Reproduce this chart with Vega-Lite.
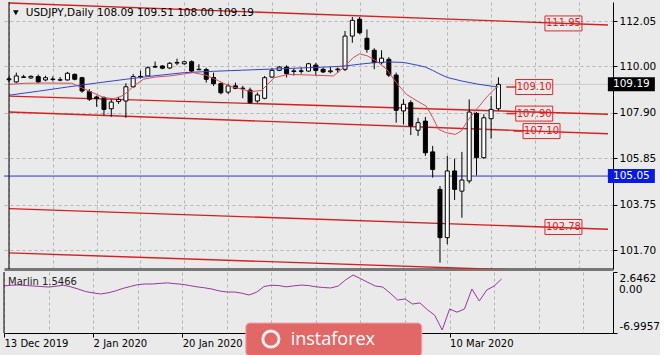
{
  "$schema": "https://vega.github.io/schema/vega-lite/v6.json",
  "background": "#eaeaea",
  "padding": {"left": 3, "top": 1, "right": 0, "bottom": 0},
  "spacing": 3,
  "bounds": "flush",
  "config": {"view": {"stroke": null}, "font": "DejaVu Sans"},
  "datasets": {
    "candles": [
      {"i":0,"o":109.40,"h":109.55,"l":109.30,"c":109.44},
      {"i":1,"o":109.30,"h":109.72,"l":109.26,"c":109.57},
      {"i":2,"o":109.50,"h":109.62,"l":109.48,"c":109.53},
      {"i":3,"o":109.48,"h":109.60,"l":109.44,"c":109.55},
      {"i":4,"o":109.54,"h":109.63,"l":109.25,"c":109.30},
      {"i":5,"o":109.39,"h":109.58,"l":109.33,"c":109.49},
      {"i":6,"o":109.41,"h":109.55,"l":109.33,"c":109.43},
      {"i":7,"o":109.38,"h":109.52,"l":109.33,"c":109.40},
      {"i":8,"o":109.39,"h":109.75,"l":109.36,"c":109.69},
      {"i":9,"o":109.64,"h":109.68,"l":109.37,"c":109.42},
      {"i":10,"o":109.49,"h":109.53,"l":108.81,"c":108.89},
      {"i":11,"o":108.86,"h":108.97,"l":108.44,"c":108.52},
      {"i":12,"o":108.62,"h":108.68,"l":108.18,"c":108.55},
      {"i":13,"o":108.59,"h":108.65,"l":107.79,"c":108.06},
      {"i":14,"o":108.09,"h":108.51,"l":107.73,"c":108.39},
      {"i":15,"o":108.42,"h":108.62,"l":108.31,"c":108.51},
      {"i":16,"o":108.44,"h":109.24,"l":107.68,"c":109.08},
      {"i":17,"o":109.08,"h":109.66,"l":109.04,"c":109.54},
      {"i":18,"o":109.55,"h":109.80,"l":109.45,"c":109.52},
      {"i":19,"o":109.57,"h":110.00,"l":109.55,"c":109.94},
      {"i":20,"o":110.00,"h":110.22,"l":109.93,"c":109.97},
      {"i":21,"o":110.02,"h":110.06,"l":109.87,"c":109.92},
      {"i":22,"o":109.93,"h":110.20,"l":109.88,"c":110.14},
      {"i":23,"o":110.15,"h":110.35,"l":110.05,"c":110.18},
      {"i":24,"o":110.12,"h":110.26,"l":110.08,"c":110.21},
      {"i":25,"o":110.21,"h":110.27,"l":109.72,"c":109.79},
      {"i":26,"o":109.85,"h":110.10,"l":109.83,"c":109.87},
      {"i":27,"o":109.86,"h":109.94,"l":109.27,"c":109.42},
      {"i":28,"o":109.50,"h":109.72,"l":109.12,"c":109.22},
      {"i":29,"o":109.22,"h":109.27,"l":108.74,"c":108.81},
      {"i":30,"o":108.84,"h":109.22,"l":108.76,"c":109.12},
      {"i":31,"o":109.12,"h":109.27,"l":108.97,"c":109.01},
      {"i":32,"o":109.00,"h":109.12,"l":108.56,"c":109.02},
      {"i":33,"o":108.93,"h":109.04,"l":108.32,"c":108.36},
      {"i":34,"o":108.44,"h":108.82,"l":108.36,"c":108.71},
      {"i":35,"o":108.56,"h":109.57,"l":108.52,"c":109.49},
      {"i":36,"o":109.52,"h":109.93,"l":109.48,"c":109.82},
      {"i":37,"o":109.82,"h":110.02,"l":109.79,"c":109.97},
      {"i":38,"o":109.97,"h":110.05,"l":109.50,"c":109.67},
      {"i":39,"o":109.77,"h":109.92,"l":109.58,"c":109.80},
      {"i":40,"o":109.80,"h":109.95,"l":109.67,"c":109.78},
      {"i":41,"o":109.79,"h":110.16,"l":109.76,"c":110.12},
      {"i":42,"o":110.06,"h":110.16,"l":109.60,"c":109.82},
      {"i":43,"o":109.87,"h":109.94,"l":109.70,"c":109.75},
      {"i":44,"o":109.76,"h":109.97,"l":109.69,"c":109.80},
      {"i":45,"o":109.85,"h":109.95,"l":109.70,"c":109.88},
      {"i":46,"o":109.87,"h":111.60,"l":109.79,"c":111.37},
      {"i":47,"o":111.37,"h":112.23,"l":111.07,"c":112.08},
      {"i":48,"o":112.13,"h":112.23,"l":111.45,"c":111.52},
      {"i":49,"o":111.27,"h":111.67,"l":110.62,"c":110.77},
      {"i":50,"o":110.73,"h":110.82,"l":109.87,"c":110.17},
      {"i":51,"o":110.17,"h":110.73,"l":110.09,"c":110.37},
      {"i":52,"o":110.32,"h":110.42,"l":109.52,"c":109.61},
      {"i":53,"o":109.61,"h":109.72,"l":107.46,"c":108.02},
      {"i":54,"o":107.99,"h":108.52,"l":107.39,"c":108.29},
      {"i":55,"o":108.36,"h":108.47,"l":106.90,"c":107.31},
      {"i":56,"o":107.12,"h":107.68,"l":106.86,"c":107.46},
      {"i":57,"o":107.53,"h":107.72,"l":105.96,"c":106.10},
      {"i":58,"o":106.14,"h":106.41,"l":104.98,"c":105.35},
      {"i":59,"o":104.45,"h":104.60,"l":101.14,"c":102.27},
      {"i":60,"o":102.27,"h":105.96,"l":101.97,"c":105.28},
      {"i":61,"o":105.28,"h":105.83,"l":103.97,"c":104.45},
      {"i":62,"o":104.37,"h":106.14,"l":103.17,"c":104.87},
      {"i":63,"o":104.83,"h":108.51,"l":104.72,"c":107.94},
      {"i":64,"o":107.88,"h":107.94,"l":105.08,"c":105.88},
      {"i":65,"o":105.88,"h":107.84,"l":105.83,"c":107.68},
      {"i":66,"o":107.64,"h":108.66,"l":106.74,"c":108.06},
      {"i":67,"o":108.09,"h":109.51,"l":108.00,"c":109.19}
    ],
    "blue": [
      {"i":0,"v":108.70},{"i":4,"v":108.88},{"i":8,"v":109.07},{"i":12,"v":109.25},
      {"i":16,"v":109.42},{"i":20,"v":109.58},{"i":24,"v":109.72},{"i":28,"v":109.78},
      {"i":32,"v":109.83},{"i":36,"v":109.88},{"i":40,"v":109.93},{"i":44,"v":109.98},
      {"i":46,"v":110.02},{"i":48,"v":110.10},{"i":50,"v":110.17},{"i":52,"v":110.20},
      {"i":54,"v":110.18},{"i":56,"v":110.05},{"i":57,"v":109.97},{"i":58,"v":109.82},
      {"i":59,"v":109.65},{"i":60,"v":109.50},{"i":62,"v":109.34},{"i":64,"v":109.21},
      {"i":66,"v":109.11},{"i":67,"v":109.07}
    ],
    "pink": [
      {"i":0,"v":109.19},{"i":2.3,"v":109.24},{"i":5,"v":109.25},{"i":8.6,"v":109.24},
      {"i":10.4,"v":108.97},{"i":13,"v":108.59},{"i":14.4,"v":108.54},{"i":15.7,"v":108.70},
      {"i":17.1,"v":109.12},{"i":18.4,"v":109.42},{"i":20,"v":109.52},{"i":22,"v":109.57},
      {"i":25.2,"v":109.72},{"i":26.9,"v":109.61},{"i":28.5,"v":109.38},{"i":30.1,"v":109.12},
      {"i":33.2,"v":108.86},{"i":34.6,"v":108.92},{"i":36.3,"v":109.49},{"i":38.2,"v":109.64},
      {"i":41.3,"v":109.61},{"i":44.4,"v":109.57},{"i":45.8,"v":109.94},{"i":47.1,"v":110.39},
      {"i":48,"v":110.57},{"i":49.1,"v":110.47},{"i":50.3,"v":110.24},{"i":51.7,"v":109.87},
      {"i":53,"v":109.27},{"i":54.4,"v":108.74},{"i":55.7,"v":108.47},{"i":57.1,"v":108.21},
      {"i":58,"v":107.70},{"i":58.8,"v":107.16},{"i":59.8,"v":107.01},{"i":61.1,"v":106.93},
      {"i":61.9,"v":107.08},{"i":62.9,"v":107.60},{"i":64.2,"v":108.14},{"i":65.5,"v":108.66},
      {"i":66.9,"v":109.12}
    ],
    "trend": [
      {"id":1,"i":0,"v":112.86},{"id":1,"i":82,"v":111.87},
      {"id":2,"i":0,"v":108.66},{"id":2,"i":82,"v":107.84},
      {"id":3,"i":0,"v":107.94},{"id":3,"i":82,"v":106.96},
      {"id":4,"i":0,"v":103.58},{"id":4,"i":82,"v":102.65},
      {"id":5,"i":0,"v":101.58},{"id":5,"i":82,"v":100.67}
    ],
    "hlines": [{"v":105.05,"k":"level"},{"v":109.19,"k":"bid"}],
    "tags": [
      {"label":"111.95","i":75.9,"p":111.94,"stub":false},
      {"label":"109.10","i":71.9,"p":109.07,"stub":true},
      {"label":"107.90","i":71.9,"p":107.87,"stub":true},
      {"label":"107.10","i":72.9,"p":107.08,"stub":true},
      {"label":"102.78","i":75.9,"p":102.75,"stub":false}
    ],
    "pricebox": [{"label":"109.19","p":109.19},{"label":"105.05","p":105.05}],
    "marlin": [
      {"i":0,"m":0.45},{"i":1,"m":0.55},{"i":2,"m":0.6},{"i":3,"m":0.5},{"i":4,"m":0.43},
      {"i":5,"m":0.35},{"i":6,"m":0.27},{"i":7,"m":0.4},{"i":8,"m":0.55},{"i":9,"m":0.3},
      {"i":10,"m":-0.05},{"i":11,"m":-0.45},{"i":12,"m":-0.65},{"i":13,"m":-0.83},{"i":14,"m":-0.65},
      {"i":15,"m":-0.35},{"i":16,"m":0.05},{"i":17,"m":0.35},{"i":18,"m":0.65},{"i":19,"m":0.75},
      {"i":20,"m":0.75},{"i":21,"m":0.85},{"i":22,"m":0.92},{"i":23,"m":0.8},{"i":24,"m":0.7},
      {"i":25,"m":0.5},{"i":26,"m":0.3},{"i":27,"m":0.15},{"i":28,"m":-0.05},{"i":29,"m":-0.35},
      {"i":30,"m":-0.52},{"i":31,"m":-0.52},{"i":32,"m":-0.7},{"i":33,"m":-0.99},{"i":34,"m":-0.55},
      {"i":35,"m":0.35},{"i":36,"m":0.55},{"i":37,"m":0.5},{"i":38,"m":0.3},{"i":39,"m":0.45},
      {"i":40,"m":0.58},{"i":41,"m":0.5},{"i":42,"m":0.3},{"i":43,"m":0.2},{"i":44,"m":0.12},
      {"i":45,"m":0.43},{"i":46,"m":1.4},{"i":47,"m":2.17},{"i":48,"m":1.6},{"i":49,"m":1.0},
      {"i":50,"m":0.43},{"i":51,"m":0.27},{"i":52,"m":-0.7},{"i":53,"m":-1.78},{"i":54,"m":-1.62},
      {"i":55,"m":-2.41},{"i":56,"m":-2.25},{"i":57,"m":-3.3},{"i":58,"m":-4.2},{"i":59,"m":-6.52},
      {"i":60,"m":-3.2},{"i":61,"m":-3.7},{"i":62,"m":-3.2},{"i":63,"m":-0.04},{"i":64,"m":-1.94},
      {"i":65,"m":-0.2},{"i":66,"m":0.43},{"i":67,"m":1.55}
    ]
  },
  "vconcat": [
    {
      "width": 609,
      "height": 267,
      "layer": [
        {
          "data": {"name": "hlines"},
          "mark": {"type": "rule", "strokeWidth": 1},
          "encoding": {
            "y": {"field": "v", "type": "quantitative", "title": null,
              "scale": {"domain": [100.854, 112.908], "nice": false, "zero": false},
              "axis": {"orient": "right", "values": [101.70, 103.75, 105.85, 107.90, 110.00, 112.05], "format": ".2f",
                "grid": true, "gridDash": [3, 3], "gridColor": "#b4b4b4", "domainColor": "#000000",
                "tickColor": "#000000", "tickSize": 4, "labelColor": "#000000", "labelFontSize": 10.5, "labelPadding": 2, "labelOverlap": false}},
            "color": {"condition": {"test": "datum.k === 'level'", "value": "#2a35d4"}, "value": "#c9c9c9"}
          }
        },
        {
          "data": {"name": "trend"},
          "mark": {"type": "line", "color": "#d42020", "strokeWidth": 1.4, "clip": true},
          "encoding": {
            "x": {"field": "i", "type": "quantitative", "title": null,
              "scale": {"domain": [0, 82], "nice": false, "zero": false},
              "axis": {"orient": "bottom", "values": [0, 6, 12, 18, 24, 30, 36, 42, 48, 54, 60, 66, 72, 78],
                "labels": false, "ticks": false, "grid": true, "gridDash": [3, 3], "gridColor": "#b4b4b4",
                "domainColor": "#777777", "domainWidth": 3}},
            "y": {"field": "v", "type": "quantitative", "title": null, "scale": {"domain": [100.854, 112.908], "nice": false, "zero": false}},
            "detail": {"field": "id", "type": "nominal"}
          }
        },
        {
          "data": {"name": "candles"},
          "mark": {"type": "rule", "color": "#000000", "strokeWidth": 1, "clip": true},
          "encoding": {
            "x": {"field": "i", "type": "quantitative", "title": null, "scale": {"domain": [0, 82], "nice": false, "zero": false}},
            "y": {"field": "l", "type": "quantitative", "title": null, "scale": {"domain": [100.854, 112.908], "nice": false, "zero": false}},
            "y2": {"field": "h"}
          }
        },
        {
          "data": {"name": "candles"},
          "mark": {"type": "bar", "width": 4, "stroke": "#000000", "strokeWidth": 1, "clip": true},
          "encoding": {
            "x": {"field": "i", "type": "quantitative", "title": null, "scale": {"domain": [0, 82], "nice": false, "zero": false}},
            "y": {"field": "o", "type": "quantitative", "title": null, "scale": {"domain": [100.854, 112.908], "nice": false, "zero": false}},
            "y2": {"field": "c"},
            "fill": {"condition": {"test": "datum.c >= datum.o", "value": "#ffffff"}, "value": "#000000"}
          }
        },
        {
          "data": {"name": "blue"},
          "mark": {"type": "line", "color": "#3344d0", "strokeWidth": 1, "clip": true},
          "encoding": {
            "x": {"field": "i", "type": "quantitative", "title": null, "scale": {"domain": [0, 82], "nice": false, "zero": false}},
            "y": {"field": "v", "type": "quantitative", "title": null, "scale": {"domain": [100.854, 112.908], "nice": false, "zero": false}}
          }
        },
        {
          "data": {"name": "pink"},
          "mark": {"type": "line", "color": "#d84b5c", "strokeWidth": 1, "clip": true},
          "encoding": {
            "x": {"field": "i", "type": "quantitative", "title": null, "scale": {"domain": [0, 82], "nice": false, "zero": false}},
            "y": {"field": "v", "type": "quantitative", "title": null, "scale": {"domain": [100.854, 112.908], "nice": false, "zero": false}}
          }
        },
        {
          "data": {"name": "tags"},
          "transform": [{"filter": "datum.stub"}],
          "mark": {"type": "point", "shape": "M-1,0H1", "size": 100, "filled": false, "stroke": "#e02828", "strokeWidth": 1.5, "xOffset": -23, "opacity": 1},
          "encoding": {
            "x": {"field": "i", "type": "quantitative", "title": null, "scale": {"domain": [0, 82], "nice": false, "zero": false}},
            "y": {"field": "p", "type": "quantitative", "title": null, "scale": {"domain": [100.854, 112.908], "nice": false, "zero": false}}
          }
        },
        {
          "data": {"name": "tags"},
          "mark": {"type": "point", "shape": "M-1,-0.405H1V0.405H-1Z", "size": 1369, "filled": false, "stroke": "#e02828", "strokeWidth": 1, "opacity": 1},
          "encoding": {
            "x": {"field": "i", "type": "quantitative", "title": null, "scale": {"domain": [0, 82], "nice": false, "zero": false}},
            "y": {"field": "p", "type": "quantitative", "title": null, "scale": {"domain": [100.854, 112.908], "nice": false, "zero": false}}
          }
        },
        {
          "data": {"name": "tags"},
          "mark": {"type": "text", "color": "#e02020", "fontSize": 10, "align": "center", "baseline": "middle"},
          "encoding": {
            "x": {"field": "i", "type": "quantitative", "title": null, "scale": {"domain": [0, 82], "nice": false, "zero": false}},
            "y": {"field": "p", "type": "quantitative", "title": null, "scale": {"domain": [100.854, 112.908], "nice": false, "zero": false}},
            "text": {"field": "label"}
          }
        },
        {
          "data": {"name": "pricebox"},
          "mark": {"type": "point", "shape": "M-1,-0.298H1V0.298H-1Z", "size": 2209, "filled": true, "opacity": 1, "clip": false},
          "encoding": {
            "x": {"datum": 85.2, "type": "quantitative", "scale": {"domain": [0, 82], "nice": false, "zero": false}},
            "y": {"field": "p", "type": "quantitative", "title": null, "scale": {"domain": [100.854, 112.908], "nice": false, "zero": false}},
            "color": {"condition": {"test": "datum.label === '109.19'", "value": "#000000"}, "value": "#0a1ae0"}
          }
        },
        {
          "data": {"name": "pricebox"},
          "mark": {"type": "text", "color": "#ffffff", "fontSize": 10.5, "align": "center", "baseline": "middle"},
          "encoding": {
            "x": {"datum": 85.2, "type": "quantitative", "scale": {"domain": [0, 82], "nice": false, "zero": false}},
            "y": {"field": "p", "type": "quantitative", "title": null, "scale": {"domain": [100.854, 112.908], "nice": false, "zero": false}},
            "text": {"field": "label"}
          }
        },
        {
          "data": {"values": [{"t": "USDJPY,Daily  108.09 109.51 108.00 109.19"}]},
          "mark": {"type": "text", "color": "#000000", "fontSize": 10.5, "align": "left", "baseline": "middle"},
          "encoding": {
            "x": {"datum": 2.29, "type": "quantitative", "scale": {"domain": [0, 82], "nice": false, "zero": false}},
            "y": {"datum": 112.40, "type": "quantitative", "scale": {"domain": [100.854, 112.908], "nice": false, "zero": false}},
            "text": {"field": "t"}
          }
        },
        {
          "data": {"values": [{"t": "menu"}]},
          "mark": {"type": "point", "shape": "triangle-down", "size": 32, "filled": true, "color": "#000000", "opacity": 1},
          "encoding": {
            "x": {"datum": 0.94, "type": "quantitative", "scale": {"domain": [0, 82], "nice": false, "zero": false}},
            "y": {"datum": 112.42, "type": "quantitative", "scale": {"domain": [100.854, 112.908], "nice": false, "zero": false}}
          }
        },
        {
          "data": {"values": [{"t": "left"}]},
          "mark": {"type": "rule", "color": "#000000", "strokeWidth": 1},
          "encoding": {
            "x": {"datum": 0, "type": "quantitative", "scale": {"domain": [0, 82], "nice": false, "zero": false}}
          }
        }
      ]
    },
    {
      "width": 609,
      "height": 61,
      "layer": [
        {
          "data": {"name": "marlin"},
          "mark": {"type": "line", "color": "#9a35a0", "strokeWidth": 1, "clip": true},
          "encoding": {
            "x": {"field": "i", "type": "quantitative", "title": null,
              "scale": {"domain": [0, 82], "nice": false, "zero": false},
              "axis": {"orient": "bottom", "values": [0, 6, 12, 18, 24, 30, 36, 42, 48, 54, 60, 66, 72, 78],
                "grid": true, "gridDash": [3, 3], "gridColor": "#b4b4b4", "domainColor": "#000000",
                "tickColor": "#000000", "tickSize": 4,
                "tickOpacity": {"condition": {"test": "datum.value % 12 === 0 && datum.value <= 60", "value": 1}, "value": 0},
                "labelExpr": "datum.value === 0 ? '13 Dec 2019' : datum.value === 12 ? '2 Jan 2020' : datum.value === 24 ? '20 Jan 2020' : datum.value === 60 ? '10 Mar 2020' : ''",
                "labelAlign": "left", "labelPadding": 1, "labelFontSize": 10, "labelColor": "#000000",
                "labelOverlap": false, "labelFlush": false, "labelBound": false}},
            "y": {"field": "m", "type": "quantitative", "title": null,
              "scale": {"domain": [-6.9957, 2.6462], "nice": false, "zero": false},
              "axis": {"orient": "right", "values": [2.6462, 0, -6.9957],
                "labelExpr": "datum.value > 1 ? '2.6462' : (datum.value < -1 ? '-6.9957' : '')",
                "labelOffset": {"condition": [{"test": "datum.value > 1", "value": 6}, {"test": "datum.value < -1", "value": -7}], "value": 1},
                "labelOverlap": false, "labelFlush": false, "labelBound": false,
                "grid": true, "gridOpacity": {"condition": {"test": "datum.value > -1 && datum.value < 1", "value": 1}, "value": 0},
                "gridDash": [3, 3], "gridColor": "#b4b4b4", "domainColor": "#000000", "tickColor": "#000000",
                "tickSize": 4, "labelPadding": 2, "labelFontSize": 10.5, "labelColor": "#000000"}}
          }
        },
        {
          "data": {"values": [{"t": "0.00"}]},
          "mark": {"type": "text", "color": "#000000", "fontSize": 10.5, "align": "left", "baseline": "middle", "clip": false},
          "encoding": {
            "x": {"datum": 82.8, "type": "quantitative", "scale": {"domain": [0, 82], "nice": false, "zero": false}},
            "y": {"datum": -0.12, "type": "quantitative", "scale": {"domain": [-6.9957, 2.6462], "nice": false, "zero": false}},
            "text": {"field": "t"}
          }
        },
        {
          "data": {"values": [{"t": "Marlin 1.5466"}]},
          "mark": {"type": "text", "color": "#222222", "fontSize": 10, "align": "left", "baseline": "middle"},
          "encoding": {
            "x": {"datum": 0.54, "type": "quantitative", "scale": {"domain": [0, 82], "nice": false, "zero": false}},
            "y": {"datum": 1.07, "type": "quantitative", "scale": {"domain": [-6.9957, 2.6462], "nice": false, "zero": false}},
            "text": {"field": "t"}
          }
        },
        {
          "data": {"values": [{"t": "left"}]},
          "mark": {"type": "rule", "color": "#000000", "strokeWidth": 1},
          "encoding": {
            "x": {"datum": 0, "type": "quantitative", "scale": {"domain": [0, 82], "nice": false, "zero": false}}
          }
        },
        {
          "data": {"values": [{"t": "logo"}]},
          "mark": {"type": "point", "shape": "M-0.955,-0.1875H0.955A0.045,0.045,0,0,1,1,-0.1425V0.1425A0.045,0.045,0,0,1,0.955,0.1875H-0.955A0.045,0.045,0,0,1,-1,0.1425V-0.1425A0.045,0.045,0,0,1,-0.955,-0.1875Z",
            "size": 30976, "filled": true, "fill": "#e26868", "stroke": "#f0a8a8", "strokeWidth": 1, "opacity": 1, "clip": false},
          "encoding": {
            "x": {"datum": 44.41, "type": "quantitative", "scale": {"domain": [0, 82], "nice": false, "zero": false}},
            "y": {"datum": -8.02, "type": "quantitative", "scale": {"domain": [-6.9957, 2.6462], "nice": false, "zero": false}}
          }
        },
        {
          "data": {"values": [{"t": "icon"}]},
          "mark": {"type": "point", "shape": "circle", "size": 260, "filled": false, "stroke": "#eeeeee", "strokeWidth": 3, "opacity": 1, "clip": false},
          "encoding": {
            "x": {"datum": 35.94, "type": "quantitative", "scale": {"domain": [0, 82], "nice": false, "zero": false}},
            "y": {"datum": -7.95, "type": "quantitative", "scale": {"domain": [-6.9957, 2.6462], "nice": false, "zero": false}}
          }
        },
        {
          "data": {"values": [{"t": "instaforex"}]},
          "mark": {"type": "text", "color": "#ffffff", "font": "Open Sans", "fontSize": 18, "align": "left", "baseline": "middle"},
          "encoding": {
            "x": {"datum": 38.6, "type": "quantitative", "scale": {"domain": [0, 82], "nice": false, "zero": false}},
            "y": {"datum": -8.1, "type": "quantitative", "scale": {"domain": [-6.9957, 2.6462], "nice": false, "zero": false}},
            "text": {"field": "t"}
          }
        }
      ]
    }
  ]
}
